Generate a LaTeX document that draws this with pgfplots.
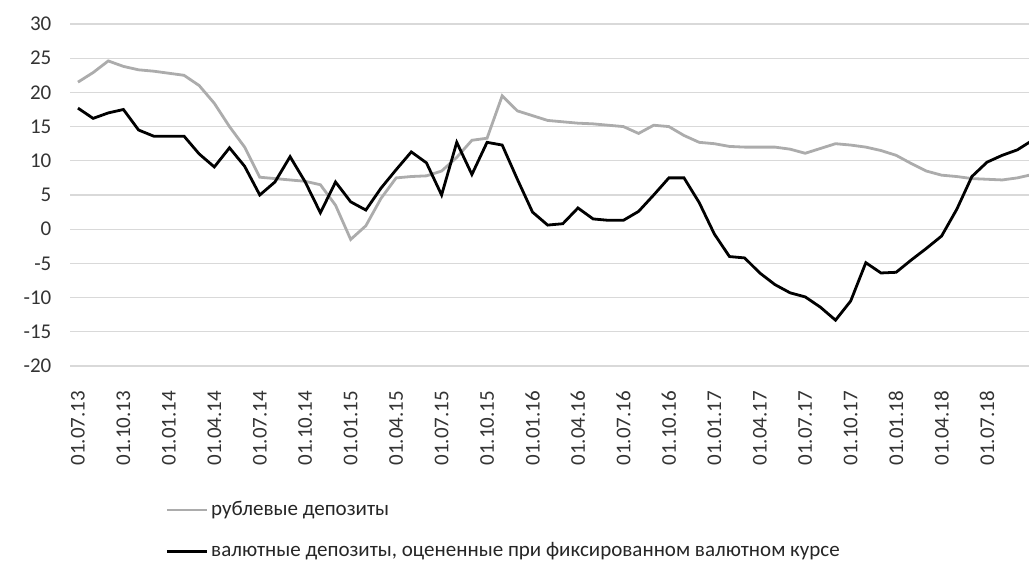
\documentclass[border=0pt]{standalone}
\usepackage{fontspec}
\setmainfont{Carlito}
\usepackage{pgfplots}
\pgfplotsset{compat=1.18}
\usepackage{pgfplotstable}
\definecolor{rubgray}{RGB}{172,172,172}
\definecolor{gridgray}{RGB}{217,217,217}
\pgfplotstableread{
i rub fx
0 21.5 17.7
1 22.9 16.2
2 24.6 17.0
3 23.8 17.5
4 23.3 14.5
5 23.1 13.6
6 22.8 13.6
7 22.5 13.6
8 21.0 11.0
9 18.4 9.1
10 15.0 11.9
11 12.0 9.2
12 7.6 5.0
13 7.4 6.9
14 7.2 10.6
15 7.0 6.9
16 6.5 2.4
17 3.5 6.9
18 -1.5 4.0
19 0.5 2.8
20 4.5 6.0
21 7.5 8.7
22 7.7 11.3
23 7.8 9.7
24 8.5 5.0
25 10.5 12.7
26 13.0 8.0
27 13.3 12.7
28 19.5 12.3
29 17.3 7.3
30 16.6 2.5
31 15.9 0.6
32 15.7 0.8
33 15.5 3.1
34 15.4 1.5
35 15.2 1.3
36 15.0 1.3
37 14.0 2.6
38 15.2 5.0
39 15.0 7.5
40 13.7 7.5
41 12.7 3.9
42 12.5 -0.7
43 12.1 -4.0
44 12.0 -4.2
45 12.0 -6.4
46 12.0 -8.1
47 11.7 -9.3
48 11.1 -9.9
49 11.8 -11.4
50 12.5 -13.3
51 12.3 -10.5
52 12.0 -4.9
53 11.5 -6.4
54 10.8 -6.3
55 9.6 -4.5
56 8.5 -2.8
57 7.9 -1.0
58 7.7 2.9
59 7.4 7.7
60 7.3 9.8
61 7.2 10.8
62 7.5 11.6
63 8.0 13.0
}\datatable
\begin{document}
\begin{tikzpicture}
\useasboundingbox (-35.2pt,-100pt) rectangle (479.3pt,183pt);
\begin{axis}[
  at={(0,0)}, anchor=south west,
  scale only axis, width=479.3pt, height=171pt,
  xmin=-0.5, xmax=62.77, ymin=-20, ymax=30,
  ytick={-20,-15,...,30},
  xtick={0,3,...,60},
  xticklabels={01.07.13,01.10.13,01.01.14,01.04.14,01.07.14,01.10.14,01.01.15,01.04.15,01.07.15,01.10.15,01.01.16,01.04.16,01.07.16,01.10.16,01.01.17,01.04.17,01.07.17,01.10.17,01.01.18,01.04.18,01.07.18},
  axis line style={draw=none},
  major tick length=0pt,
  ymajorgrids, grid style={color=gridgray, line width=0.6pt},
  tick label style={font=\fontsize{10.5}{12}\selectfont, text=black!80},
  /pgf/number format/assume math mode=true,
  yticklabel style={anchor=east, xshift=-6pt},
  xticklabel style={rotate=90, anchor=east},
  xticklabel shift=9pt,
  legend style={at={(axis description cs:0.0987,-0.386)}, anchor=north west,
    draw=none, fill=none, font=\fontsize{10.5}{12}\selectfont,
    row sep=9pt, inner sep=0pt, nodes={inner sep=1.5pt, text=black!85}},
  legend cell align=left,
  legend image code/.code={\draw[#1] (0pt,0pt) -- (20pt,0pt);},
]
\addplot[rubgray, line width=1.4pt] table[x=i, y=rub] {\datatable};
\addlegendentry{рублевые депозиты}
\addplot[black, line width=1.4pt] table[x=i, y=fx] {\datatable};
\addlegendentry{валютные депозиты, оцененные при фиксированном валютном курсе}
\end{axis}
\end{tikzpicture}
\end{document}
